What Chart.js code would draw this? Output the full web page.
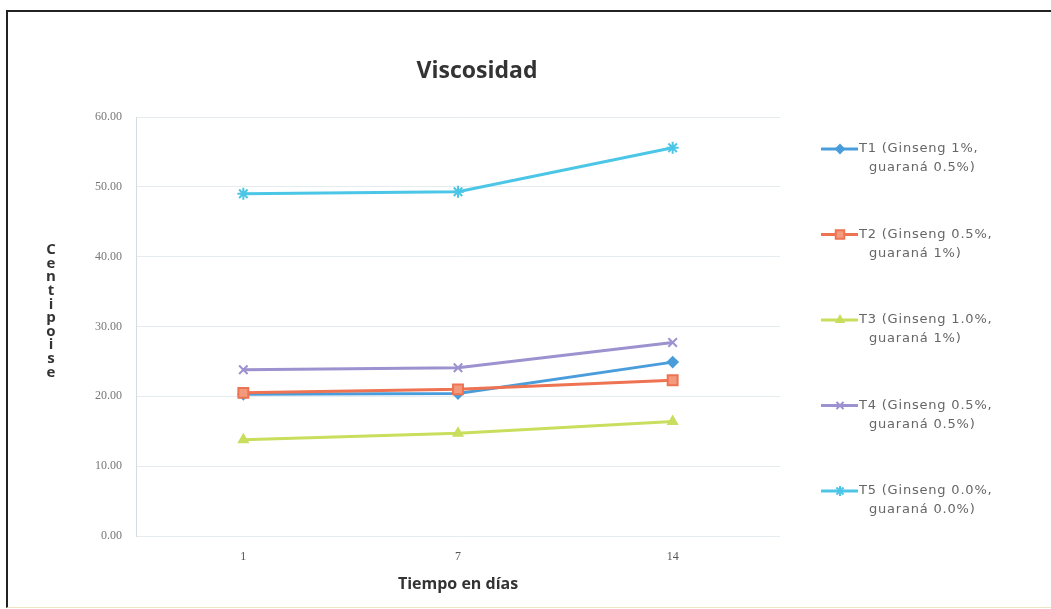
<!DOCTYPE html>
<html>
<head>
<meta charset="utf-8">
<title>Viscosidad</title>
<script src="https://cdn.jsdelivr.net/npm/chart.js@4/dist/chart.umd.min.js"></script>
<style>
    html, body { margin: 0; padding: 0; background: #fff; }
    #wrap { position: relative; width: 1051px; height: 609px; overflow: hidden; }
    #chart { position: absolute; left: 0; top: 0; }
    #frame {
        position: absolute; left: 6px; top: 10px; right: -6px; bottom: 1px;
        border-top: 2px solid #222; border-left: 2px solid #222;
        border-bottom: 1px solid #efe6c4;
        pointer-events: none;
    }
</style>
</head>
<body>
<div id="wrap">
    <canvas id="chart" width="1051" height="609"></canvas>
    <div id="frame"></div>
</div>
<script>
// Data
const chartTitle = 'Viscosidad';
const xTitle = 'Tiempo en días';
const yTitle = 'Centipoise';
const days = ['1', '7', '14'];

const t1 = [20.3, 20.4, 24.9];
const t2 = [20.5, 21.0, 22.3];
const t3 = [13.8, 14.7, 16.4];
const t4 = [23.8, 24.1, 27.7];
const t5 = [49.0, 49.3, 55.6];

const seriesNames = [
    'T1 (Ginseng 1%, guaraná 0.5%)',
    'T2 (Ginseng 0.5%, guaraná 1%)',
    'T3 (Ginseng 1.0%, guaraná 1%)',
    'T4 (Ginseng 0.5%, guaraná 0.5%)',
    'T5 (Ginseng 0.0%, guaraná 0.0%)'
];

const yMin = 0;
const yMax = 60;
const yStep = 10;

function series(label, data, color, fill, style, radius, order) {
    return {
        label: label,
        data: data,
        borderColor: color,
        backgroundColor: fill,
        borderWidth: 3,
        pointStyle: style,
        pointRadius: radius,
        pointBorderColor: color,
        pointBackgroundColor: fill,
        pointBorderWidth: 2,
        tension: 0,
        order: order
    };
}

// Title, stacked y title and the legend on the right
const decor = {
    id: 'decor',
    afterDraw(chart) {
        const ctx = chart.ctx;
        ctx.save();

        ctx.fillStyle = '#333';
        ctx.font = 'bold 23px "Open Sans"';
        ctx.textAlign = 'center';
        ctx.textBaseline = 'middle';
        ctx.fillText(chartTitle, 477, 71);

        ctx.font = 'bold 15px "Open Sans"';
        yTitle.split('').forEach((ch, i) => {
            ctx.fillText(ch, 51, 250 + i * 13.6);
        });

        ctx.textAlign = 'left';
        ctx.font = '13px "DejaVu Sans"';
        if ('letterSpacing' in ctx) ctx.letterSpacing = '0.8px';
        chart.data.datasets.forEach((ds, i) => {
            const y = 149 + i * 85.5;
            ctx.strokeStyle = ds.borderColor;
            ctx.lineWidth = 3;
            ctx.beginPath();
            ctx.moveTo(821, y);
            ctx.lineTo(858, y);
            ctx.stroke();
            if (Chart.helpers && Chart.helpers.drawPoint) {
                ctx.fillStyle = ds.pointBackgroundColor;
                ctx.strokeStyle = ds.pointBorderColor;
                ctx.lineWidth = ds.pointBorderWidth;
                Chart.helpers.drawPoint(ctx, {
                    pointStyle: ds.pointStyle,
                    radius: ds.pointRadius - 1,
                    rotation: 0,
                    borderWidth: ds.pointBorderWidth
                }, 840, y);
            }
            const parts = ds.label.split(', ');
            ctx.fillStyle = '#666';
            ctx.fillText(parts[0] + ',', 859, y);
            ctx.fillText(parts[1], 869, y + 19);
        });
        ctx.restore();
    }
};

new Chart(document.getElementById('chart'), {
    type: 'line',
    data: {
        labels: days,
        datasets: [
            series(seriesNames[0], t1, '#4a9ddb', '#4a9ddb', 'rectRot', 5, 1),
            series(seriesNames[1], t2, '#ee7352', '#f39a7e', 'rect', 7, 0),
            series(seriesNames[2], t3, '#c8de5c', '#c8de5c', 'triangle', 5, 0),
            series(seriesNames[3], t4, '#9d92cf', '#9d92cf', 'crossRot', 6, 0),
            series(seriesNames[4], t5, '#4cc6e6', '#4cc6e6', 'star', 6, 0)
        ]
    },
    options: {
        responsive: false,
        animation: false,
        devicePixelRatio: 1,
        layout: {
            padding: { left: 80, right: 271, top: 117, bottom: 10 }
        },
        plugins: {
            legend: { display: false },
            title: { display: false },
            tooltip: { enabled: false }
        },
        scales: {
            x: {
                offset: true,
                grid: { display: false, drawTicks: false },
                border: { display: false },
                ticks: {
                    padding: 14,
                    color: '#555',
                    font: { family: '"Liberation Serif"', size: 12 }
                },
                title: {
                    display: true,
                    text: xTitle,
                    color: '#333',
                    padding: { top: 0, bottom: 5 },
                    font: { family: '"Open Sans"', size: 16, weight: 'bold' }
                },
                afterFit(scale) { scale.height = 63; }
            },
            y: {
                min: yMin,
                max: yMax,
                grid: { color: '#e4ecef', drawTicks: false },
                border: { color: '#d5dde1' },
                ticks: {
                    stepSize: yStep,
                    padding: 14,
                    color: '#777',
                    font: { family: '"Liberation Serif"', size: 12 },
                    callback: v => v.toFixed(2)
                },
                afterFit(scale) { scale.width = 56; }
            }
        }
    },
    plugins: [decor]
});
</script>
</body>
</html>
